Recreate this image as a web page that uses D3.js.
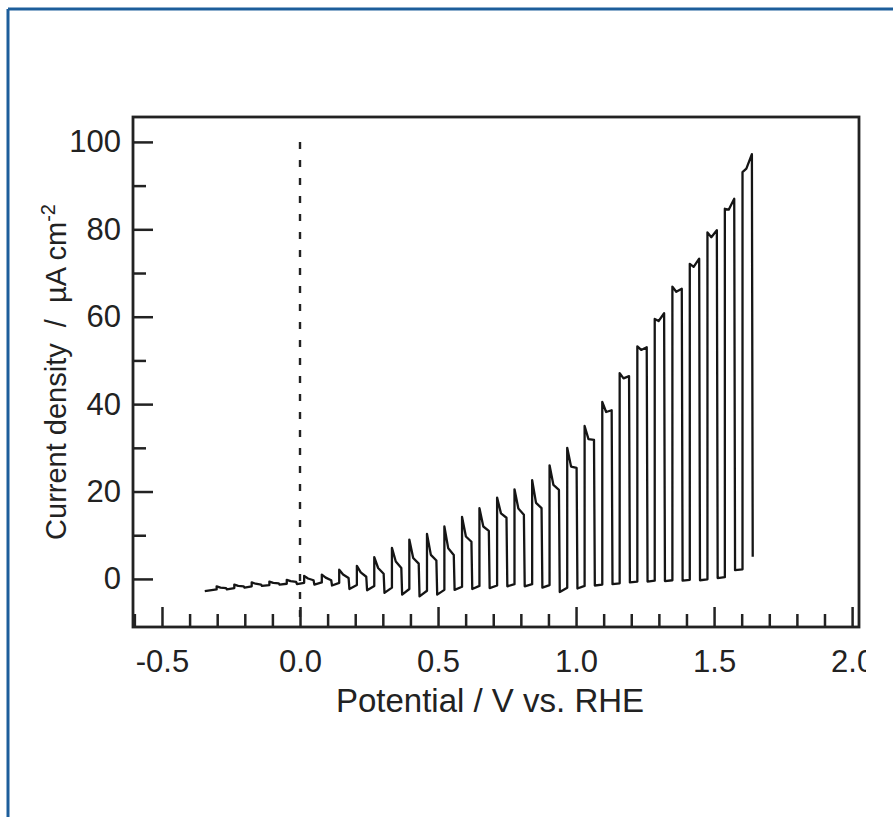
<!DOCTYPE html>
<html>
<head>
<meta charset="utf-8">
<script src="https://cdn.jsdelivr.net/npm/d3@7"></script>
<style>
  body { margin: 0; background: #fff; }
  svg { display: block; font-family: "Liberation Sans", Arial, sans-serif; }
</style>
</head>
<body>
<div id="chart"></div>
<script>
const width = 893;
const height = 817;

// chopped-light sweep, one entry per light cycle
const onV    = [-0.302,-0.238,-0.175,-0.111,-0.048,0.015,0.079,0.142,0.206,0.269,0.333,0.396,0.460,0.523,0.587,0.650,0.714,0.777,0.841,0.904,0.968,1.031,1.095,1.158,1.222,1.285,1.349,1.412,1.476,1.539,1.603];
const offV   = [-0.268,-0.204,-0.141,-0.077,-0.014,0.049,0.113,0.176,0.240,0.303,0.367,0.430,0.494,0.557,0.621,0.684,0.748,0.811,0.875,0.938,1.002,1.065,1.129,1.192,1.256,1.319,1.383,1.446,1.510,1.573,1.637];
const onI    = [-2.4,-2.1,-1.7,-1.4,-1.1,-0.9,-0.8,-0.9,-1.4,-1.6,-2.0,-2.3,-2.7,-2.5,-1.8,-1.6,-1.5,-1.2,-1.2,-1.4,-2.0,-1.6,-1.3,-1.0,-0.6,-0.4,-0.3,-0.2,-0.1,0.4,2.2];
const peakI  = [-1.7,-1.3,-0.8,-0.6,-0.2,0.7,1.0,2.1,3.0,5.0,7.1,9.0,10.3,12.0,14.2,16.2,18.6,20.5,22.6,26.0,30.0,35.0,40.5,47.1,53.2,59.5,66.9,72.1,79.3,84.7,93.1];
const notchI = [-2.0,-1.6,-1.1,-0.9,-0.5,0.1,0.3,1.0,1.5,2.5,4.0,4.8,5.5,7.0,9.7,12.0,15.0,16.1,17.4,21.5,25.7,32.0,38.2,45.9,52.4,59.0,65.7,71.4,78.2,84.5,93.9];
const endI   = [-2.1,-1.7,-1.3,-1.0,-0.7,-0.3,-0.3,0.2,0.5,1.2,2.5,3.5,4.2,5.5,8.5,11.0,14.0,14.7,16.2,20.4,25.4,31.8,38.6,46.4,53.0,60.8,66.4,73.3,79.8,87.0,97.2];
const minI   = [-2.4,-2.0,-1.6,-1.3,-1.2,-1.3,-1.5,-2.3,-2.6,-3.2,-3.6,-4.0,-3.6,-2.5,-2.3,-2.1,-1.7,-1.7,-2.0,-3.0,-2.2,-1.5,-1.2,-0.8,-0.6,-0.5,-0.4,-0.3,0.2,2.0,5.1];
const startV = -0.345, startI = -2.8;
const spikeDecay = 0.014, offLag = 0.003;

const xMajor = [-0.5, 0.0, 0.5, 1.0, 1.5, 2.0];
const xMinor = [-0.6,-0.4,-0.3,-0.2,-0.1,0.1,0.2,0.3,0.4,0.6,0.7,0.8,0.9,1.1,1.2,1.3,1.4,1.6,1.7,1.8,1.9];
const yMajor = [0, 20, 40, 60, 80, 100];
const yMinor = [10, 30, 50, 70, 90];

const plot = { left: 133, right: 859, top: 117, bottom: 627 };

const x = d3.scaleLinear().domain([-0.605, 2.025]).range([plot.left, plot.right]);
const y = d3.scaleLinear().domain([-11, 105.7]).range([plot.bottom, plot.top]);

const svg = d3.select("#chart").append("svg")
    .attr("width", width)
    .attr("height", height);

// build the trace from the cycle tables
const pts = [[startV, startI]];
onV.forEach((v, i) => {
    pts.push([v, onI[i]]);
    pts.push([v, peakI[i]]);
    pts.push([v + spikeDecay, notchI[i]]);
    pts.push([offV[i], endI[i]]);
    pts.push([offV[i] + offLag, minI[i]]);
});

const line = d3.line().x(d => x(d[0])).y(d => y(d[1]));

// dashed line at 0 V
svg.append("line")
    .attr("x1", x(0)).attr("x2", x(0))
    .attr("y1", y(100)).attr("y2", plot.bottom)
    .attr("stroke", "#222").attr("stroke-width", 2.4)
    .attr("stroke-dasharray", "7,11");

svg.append("path")
    .datum(pts)
    .attr("fill", "none")
    .attr("stroke", "#151515")
    .attr("stroke-width", 2.3)
    .attr("stroke-linejoin", "round")
    .attr("d", line);

/**********
 * Axes *
 **********/
const gx = svg.append("g").attr("transform", `translate(0,${plot.bottom})`);
gx.append("g").call(d3.axisBottom(x).tickValues(xMinor).tickSize(-13).tickFormat(""));
gx.append("g").call(d3.axisBottom(x).tickValues(xMajor).tickSize(-20).tickPadding(23).tickFormat(d => d.toFixed(1)));

const gy = svg.append("g").attr("transform", `translate(${plot.left},0)`);
gy.append("g").call(d3.axisLeft(y).tickValues(yMinor).tickSize(-13).tickFormat(""));
gy.append("g").call(d3.axisLeft(y).tickValues(yMajor).tickSize(-20).tickPadding(12).tickFormat(d3.format("d")));

svg.selectAll(".domain").remove();
svg.selectAll(".tick line").attr("stroke", "#222").attr("stroke-width", 2.5);
svg.selectAll(".tick text")
    .attr("fill", "#222")
    .style("font-size", "31px")
    .style("font-family", "'Liberation Sans', Arial, sans-serif");

svg.append("rect")
    .attr("x", plot.left).attr("y", plot.top)
    .attr("width", plot.right - plot.left).attr("height", plot.bottom - plot.top)
    .attr("fill", "none").attr("stroke", "#222").attr("stroke-width", 2.8);

// axis titles
svg.append("text")
    .attr("x", 490).attr("y", 712)
    .attr("text-anchor", "middle")
    .attr("fill", "#222")
    .style("font-size", "33px")
    .text("Potential / V vs. RHE");

const yl = svg.append("text")
    .attr("transform", "translate(66,372) rotate(-90)")
    .attr("text-anchor", "middle")
    .attr("fill", "#222")
    .style("font-size", "29px")
    .attr("xml:space", "preserve");
yl.append("tspan").text("Current density  /  µA cm");
yl.append("tspan").attr("dy", -11).style("font-size", "20px").text("-2");

// the source figure is cropped through the last tick label
svg.append("rect")
    .attr("x", 866).attr("y", 12).attr("width", width - 866).attr("height", height - 12)
    .attr("fill", "#fff");

// blue picture frame
svg.append("line").attr("x1", 8).attr("x2", width).attr("y1", 9).attr("y2", 9)
    .attr("stroke", "#1d5e9b").attr("stroke-width", 3);
svg.append("line").attr("x1", 8).attr("x2", 8).attr("y1", 9).attr("y2", height)
    .attr("stroke", "#1d5e9b").attr("stroke-width", 3);
</script>
</body>
</html>
